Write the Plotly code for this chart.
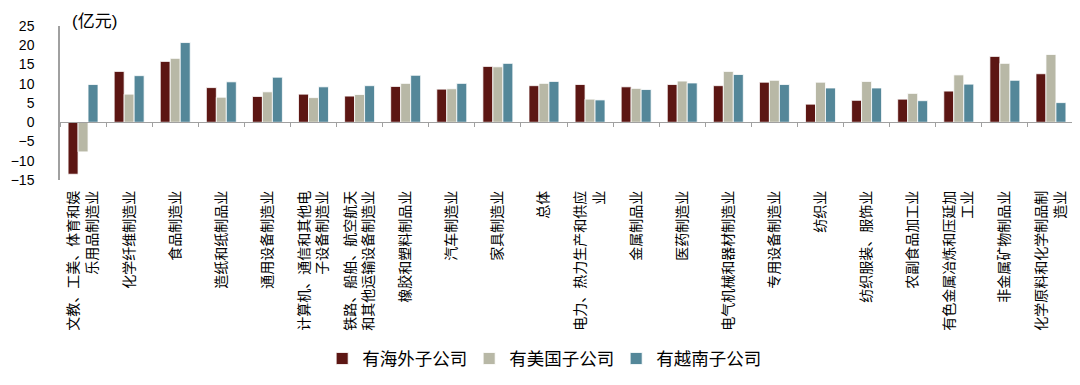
import plotly.graph_objects as go

categories = [
    "文教、工美、体育和娱<br>乐用品制造业", "化学纤维制造业", "食品制造业", "造纸和纸制品业",
    "通用设备制造业", "计算机、通信和其他电<br>子设备制造业", "铁路、船舶、航空航天<br>和其他运输设备制造业",
    "橡胶和塑料制品业", "汽车制造业", "家具制造业", "总体", "电力、热力生产和供应<br>业",
    "金属制品业", "医药制造业", "电气机械和器材制造业", "专用设备制造业", "纺织业",
    "纺织服装、服饰业", "农副食品加工业", "有色金属冶炼和压延加<br>工业", "非金属矿物制品业",
    "化学原料和化学制品制<br>造业",
]
overseas = [-13.5, 13.2, 15.8, 9.0, 6.7, 7.3, 6.8, 9.3, 8.6, 14.5, 9.5, 9.8, 9.2, 9.8, 9.5, 10.4, 4.7, 5.7, 6.0, 8.1, 17.1, 12.6]
usa = [-7.7, 7.3, 16.6, 6.5, 7.9, 6.4, 7.2, 10.1, 8.7, 14.4, 10.1, 6.0, 8.8, 10.7, 13.2, 10.9, 10.4, 10.6, 7.5, 12.3, 15.3, 17.6]
vietnam = [9.8, 12.1, 20.7, 10.5, 11.7, 9.2, 9.5, 12.2, 10.1, 15.3, 10.6, 5.8, 8.5, 10.2, 12.4, 9.8, 8.9, 8.9, 5.6, 9.9, 10.9, 5.1]
series_names = ["有海外子公司", "有美国子公司", "有越南子公司"]
colors = ["#5C1613", "#B8B8A6", "#548799"]
y_ticks = [-15, -10, -5, 0, 5, 10, 15, 20, 25]

font_family = "Liberation Sans, Arial, Noto Sans CJK SC, sans-serif"

fig = go.Figure()
for name, vals, col in zip(series_names, [overseas, usa, vietnam], colors):
    fig.add_trace(go.Bar(
        x=categories, y=vals, name=name,
        marker=dict(color=col, line=dict(color="white", width=0.8)),
    ))

# invisible trace carrying categories for the zero-line axis
fig.add_trace(go.Scatter(
    x=categories, y=[0] * len(categories), xaxis="x2", yaxis="y",
    mode="markers", marker=dict(opacity=0), showlegend=False, hoverinfo="skip",
))

ymin, ymax = y_ticks[0], y_ticks[-1]
zero_pos = (0 - ymin) / (ymax - ymin)

fig.update_layout(
    width=1072, height=377,
    margin=dict(l=52, r=6, t=18, b=205, autoexpand=False),
    paper_bgcolor="white", plot_bgcolor="white",
    font=dict(family=font_family, size=14, color="#000000"),
    barmode="group", bargap=0.35, bargroupgap=0,
    xaxis=dict(
        type="category", range=[-0.5, len(categories) - 0.5], automargin=False,
        showline=False, ticks="", tickangle=-90, showgrid=False,
        tickfont=dict(size=14), ticklabelstandoff=7,
    ),
    xaxis2=dict(
        type="category", overlaying="x", anchor="free", position=zero_pos, automargin=False,
        range=[-0.5, len(categories) - 0.5], showline=True, linecolor="#A0A0A0", linewidth=1.3,
        ticks="outside", tickson="boundaries", ticklen=4, tickcolor="#A0A0A0",
        showticklabels=False, showgrid=False,
    ),
    yaxis=dict(
        range=[ymin, ymax], tickvals=y_ticks, showgrid=False, zeroline=False, automargin=False,
        showline=True, linecolor="#A0A0A0", linewidth=1.5, ticks="",
        tickfont=dict(size=14), ticklabelstandoff=21,
    ),
    legend=dict(
        orientation="h", x=0.476, xanchor="center", y=-1.16, yanchor="middle",
        font=dict(size=17.5), entrywidth=102, traceorder="normal",
    ),
    annotations=[dict(
        text="(亿元)", xref="paper", yref="paper", x=0.01, y=1.026,
        xanchor="left", yanchor="middle", showarrow=False, font=dict(size=17),
    )],
)

fig.write_html("out.html")
